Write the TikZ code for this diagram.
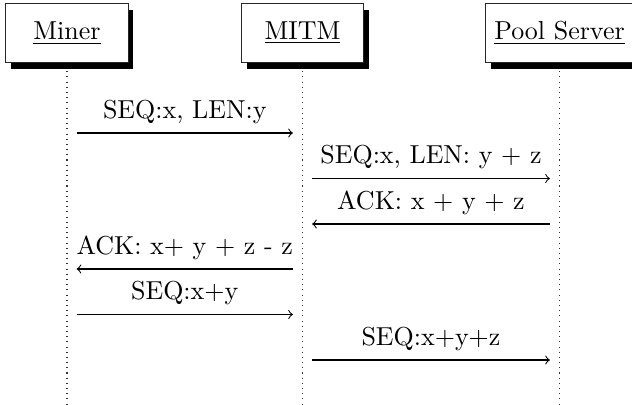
\documentclass[tikz,border=0pt]{standalone}
\usetikzlibrary{shadows}
\begin{document}
\begin{tikzpicture}[x=0.385pt,y=-0.385pt,
  inst/.style={draw=black!85, fill=white, line width=0.4pt, minimum width=47pt, minimum height=23pt, inner xsep=3.4pt,
    drop shadow={shadow xshift=2.1pt, shadow yshift=-2.5pt, fill=black, opacity=1}},
  lifeline/.style={line width=0.4pt, dash pattern=on 0.4pt off 1.6pt, black!80},
  msg/.style={->, line width=0.4pt, shorten >=3.7pt, shorten <=3.7pt}]
\useasboundingbox (0,0) rectangle (632,405);
% instances
\node[inst] (miner) at (67,33) {\underline{Miner}};
\node[inst] (mitm) at (302.5,33) {\underline{MITM}};
\node[inst] (pool) at (559.5,33) {\underline{Pool Server}};
% lifeline ends
\coordinate (minerE) at (67,405);
\coordinate (mitmE) at (302.5,405);
\coordinate (poolE) at (559.5,405);
\draw[lifeline] ([yshift=-3pt]miner.south) -- (minerE);
\draw[lifeline] ([yshift=-3pt]mitm.south) -- (mitmE);
\draw[lifeline] ([yshift=-3pt]pool.south) -- (poolE);
% message anchor points
\foreach \i/\y in {1/133,2/178.5,3/224,4/269,5/314.5,6/360}{
  \coordinate (a\i) at (67,\y);
  \coordinate (b\i) at (302.5,\y);
  \coordinate (c\i) at (559.5,\y);
}
\draw[msg] (a1) -- node[above] {SEQ:x, LEN:y} (b1);
\draw[msg] (b2) -- node[above] {SEQ:x, LEN: y + z} (c2);
\draw[msg] (c3) -- node[above] {ACK: x + y + z} (b3);
\draw[msg] (b4) -- node[above] {ACK: x+ y + z - z} (a4);
\draw[msg] (a5) -- node[above] {SEQ:x+y} (b5);
\draw[msg] (b6) -- node[above] {SEQ:x+y+z} (c6);
\end{tikzpicture}
\end{document}
